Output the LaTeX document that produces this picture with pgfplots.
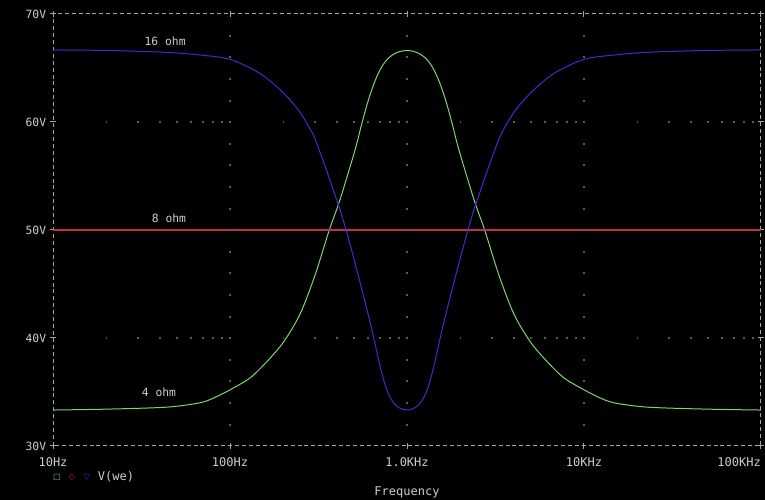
\documentclass[border=0pt]{standalone}
\usepackage{pgfplots}
\pgfplotsset{compat=1.18}
\usepackage{pgfplotstable}
\usepackage{fontspec}
\setmainfont{DejaVu Sans Mono}
\newfontfamily\symfont{DejaVu Sans}

\definecolor{bg}{RGB}{0,0,0}
\definecolor{framec}{RGB}{165,165,165}
\definecolor{gridc}{RGB}{90,90,90}
\definecolor{textc}{RGB}{205,205,205}
\definecolor{trgreen}{RGB}{125,215,110}
\definecolor{trred}{RGB}{195,45,80}
\definecolor{trblue}{RGB}{70,40,210}

% V(we) for the 4 ohm load
\pgfplotstableread{
f v
10 33.33
21.0 33.42
44.1 33.6
67.7 34.0
82.2 34.5
100 35.2
129.7 36.3
161.2 37.8
200.1 39.6
248.6 42.2
302.1 45.8
363.9 50.0
418.3 52.8
508.4 57.4
554.6 59.8
604.4 62.0
659.6 63.8
719.4 65.1
784.0 65.9
855.3 66.35
925.0 66.55
1000 66.62
1081 66.55
1169 66.35
1276 65.9
1390 65.1
1516 63.8
1655 62.0
1803 59.8
1967 57.4
2391 52.8
2748 50.0
3310 45.8
4023 42.2
4998 39.6
6203 37.8
7710 36.3
10000 35.2
12165 34.5
14771 34.0
22676 33.6
47619 33.42
100000 33.33
}\fourohm

% 8 ohm load
\pgfplotstableread{
f v
10 50
100000 50
}\eightohm

% 16 ohm load
\pgfplotstableread{
f v
10 66.67
21.0 66.62
44.1 66.45
67.7 66.2
100 65.8
147.7 64.5
200.1 62.7
248.6 60.9
295.5 58.8
322.4 57.2
351.8 55.5
383.4 53.7
418.3 51.9
456.3 49.8
501.8 47.3
561.9 44.2
618.0 41.5
659.6 39.5
688.6 38.1
719.4 36.8
751.0 35.7
784.0 34.85
819.4 34.25
855.3 33.85
912.9 33.5
1000 33.33
1095 33.5
1169 33.85
1220 34.25
1276 34.85
1332 35.7
1390 36.8
1452 38.1
1516 39.5
1618 41.5
1780 44.2
1993 47.3
2192 49.8
2391 51.9
2608 53.7
2843 55.5
3102 57.2
3384 58.8
4023 60.9
4998 62.7
6770 64.5
10000 65.8
14771 66.2
22676 66.45
47619 66.62
100000 66.67
}\sixteenohm

% grid dot positions
\pgfplotstableread{
x d
20 0
30 0
40 0
50 0
60 0
70 0
80 0
90 0
100 0
200 0
300 0
400 0
500 0
600 0
700 0
800 0
900 0
1000 0
2000 0
3000 0
4000 0
5000 0
6000 0
7000 0
8000 0
9000 0
10000 0
20000 0
30000 0
40000 0
50000 0
60000 0
70000 0
80000 0
90000 0
}\gridx

\pgfplotstableread{
d y
0 32
0 34
0 36
0 38
0 40
0 42
0 44
0 46
0 48
0 50
0 52
0 54
0 56
0 58
0 60
0 62
0 64
0 66
0 68
}\gridy

\begin{document}
\begin{tikzpicture}
\fill[bg] (-39.75pt,-40.5pt) rectangle (534pt,334.5pt);
\begin{axis}[
    scale only axis,
    width=531pt, height=324pt,
    xmode=log,
    xmin=10, xmax=100000,
    ymin=30, ymax=70,
    xminorticks=false, yminorticks=false,
    xtick={10,100,1000,10000,100000},
    xticklabels={10Hz,100Hz,1.0KHz,10KHz,{}},
    ytick={30,40,50,60,70},
    yticklabels={30V,40V,50V,60V,70V},
    axis line style={framec, line width=0.75pt, dash pattern=on 3pt off 2.2pt},
    tick style={framec, line width=0.75pt},
    tick align=center,
    major tick length=4pt,
    ticklabel style={textc, font=\fontsize{8.5}{10}\selectfont},
    xticklabel style={anchor=center, yshift=-10pt, font=\fontsize{9}{10}\selectfont},
    yticklabel style={anchor=east, inner sep=0pt, xshift=-3pt},
]
\pgfplotsinvokeforeach{40,60}{
  \addplot[gridc, only marks, mark=square*, mark size=0.35pt] table[x=x, y expr=#1] {\gridx};
}
\pgfplotsinvokeforeach{100,1000,10000}{
  \addplot[gridc, only marks, mark=square*, mark size=0.35pt] table[x expr=#1, y=y] {\gridy};
}
\addplot[trgreen, line width=0.75pt, smooth] table[x=f, y=v] {\fourohm};
\addplot[trred, line width=0.9pt] table[x=f, y=v] {\eightohm};
\addplot[trblue, line width=0.75pt, smooth] table[x=f, y=v] {\sixteenohm};

\node[textc, font=\fontsize{8.5}{10}\selectfont] at (axis cs:43,67.5) {16 ohm};
\node[textc, font=\fontsize{8.5}{10}\selectfont] at (axis cs:45.2,51.1) {8 ohm};
\node[textc, font=\fontsize{8.5}{10}\selectfont] at (axis cs:39.7,35.0) {4 ohm};
\end{axis}
\node[textc, anchor=east, inner sep=0pt, font=\fontsize{9}{10}\selectfont] at (531pt,-12pt) {100KHz};
\node[trgreen, font=\symfont\fontsize{6}{7}\selectfont] at (3pt,-23.25pt) {□};
\node[trred, font=\symfont\fontsize{6}{7}\selectfont] at (14.25pt,-23.25pt) {◇};
\node[trblue, font=\symfont\fontsize{6}{7}\selectfont] at (25.5pt,-23.25pt) {▽};
\node[textc, anchor=west, inner sep=0pt, font=\fontsize{9}{10}\selectfont] at (33.5pt,-23.25pt) {V(we)};
\node[textc, font=\fontsize{9}{10}\selectfont] at (265.5pt,-34.5pt) {Frequency};
\pgfresetboundingbox
\path (-39.75pt,-40.5pt) rectangle (534pt,334.5pt);
\end{tikzpicture}
\end{document}
